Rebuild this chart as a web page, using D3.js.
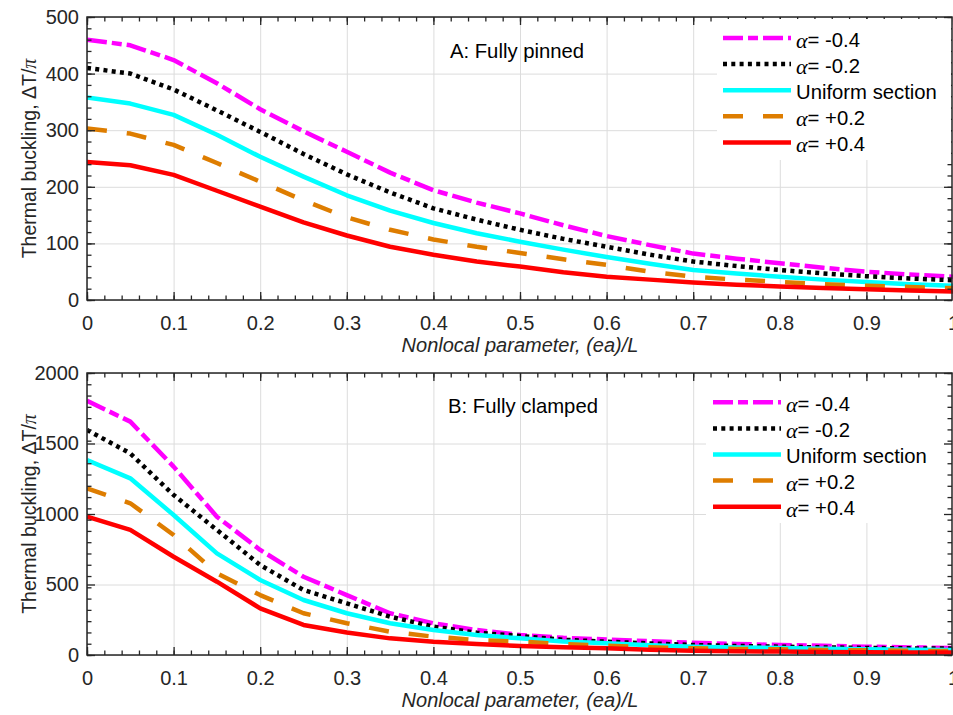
<!DOCTYPE html>
<html>
<head>
<meta charset="utf-8">
<script src="https://cdn.jsdelivr.net/npm/d3@7"></script>
<style>
	body { margin: 0; background: #fff; }
	svg { display: block; font-family: "Liberation Sans", Arial, sans-serif; }
	.tk text { font-size: 20px; fill: #262626; }
	.tk path, .tk line { stroke: #262626; stroke-width: 1.3; }
	.grid line { stroke: #dcdcdc; stroke-width: 1; }
	.grid path { display: none; }
</style>
</head>
<body>
<svg id="fig" width="953" height="715"></svg>
<script>
// nonlocal parameter (ea)/L
let xs = [0, 0.05, 0.1, 0.15, 0.2, 0.25, 0.3, 0.35, 0.4, 0.45, 0.5, 0.55, 0.6, 0.65, 0.7, 0.75, 0.8, 0.85, 0.9, 0.95, 1];

let seriesNames = ["-0.4", "-0.2", "Uniform section", "+0.2", "+0.4"];
let seriesColors = ["#ff00ff", "#000000", "#00ffff", "#de7d00", "#ff0000"];
let seriesDash = ["20,5,10,5", "4,4.3", null, "20,20", null];

// A: fully pinned
let pinnedM04 = [460, 450, 424, 383, 337, 298, 262, 225, 194, 172, 153, 132, 113, 97, 82, 73, 65, 57, 50, 45, 41];
let pinnedM02 = [410, 400, 372, 335, 297, 258, 222, 190, 162, 142, 124, 108, 94, 80, 68, 60, 53, 47, 42, 38, 35];
let pinnedU = [358, 347, 327, 292, 253, 218, 185, 158, 136, 118, 103, 89, 76, 64, 53, 47, 41, 36, 32, 28, 25];
let pinnedP02 = [303, 294, 274, 242, 209, 176, 146, 124, 107, 94, 83, 72, 62, 50, 41, 36, 32, 28, 25, 23, 21];
let pinnedP04 = [244, 238, 221, 193, 165, 137, 114, 94, 80, 68, 59, 49, 41, 36, 31, 27, 24, 21, 19, 17, 15];

// B: fully clamped
let clampedM04 = [1803, 1655, 1336, 981, 745, 555, 425, 296, 225, 177, 142, 122, 110, 98, 87, 78, 71, 65, 59, 54, 50];
let clampedM02 = [1596, 1430, 1135, 887, 638, 461, 366, 272, 201, 158, 135, 108, 94, 82, 71, 64, 59, 54, 50, 47, 45];
let clampedU = [1383, 1253, 993, 721, 532, 390, 296, 225, 177, 142, 118, 95, 83, 70, 59, 54, 50, 45, 40, 37, 35];
let clampedP02 = [1182, 1076, 851, 579, 425, 296, 225, 165, 130, 106, 95, 78, 66, 55, 47, 43, 40, 36, 33, 30, 28];
let clampedP04 = [981, 887, 697, 520, 331, 213, 160, 118, 94, 78, 64, 55, 47, 38, 31, 27, 24, 21, 19, 18, 17];

let xTicks = [0, 0.1, 0.2, 0.3, 0.4, 0.5, 0.6, 0.7, 0.8, 0.9, 1];
let yTicksA = [0, 100, 200, 300, 400, 500];
let yTicksB = [0, 500, 1000, 1500, 2000];

let svg = d3.select("#fig");
let x = d3.scaleLinear().domain([0, 1]).range([87, 953]);

let minorTicks = function(lo, hi, step) {
	let r = [];
	for (let i = 0; lo + i*step <= hi + 1e-9; i++)
		r.push(+(lo + i*step).toFixed(6));
	return r;
};

let drawPanel = function(opt) {
	let y = d3.scaleLinear().domain([0, opt.ymax]).range([opt.bottom, opt.top]);
	let g = svg.append("g");
	let w = x.range()[1] - x.range()[0];
	let h = opt.bottom - opt.top;

	// grid
	g.append("g").attr("class", "grid")
		.attr("transform", "translate(0," + opt.bottom + ")")
		.call(d3.axisBottom(x).tickValues(xTicks).tickSize(-h).tickFormat(""));
	g.append("g").attr("class", "grid")
		.attr("transform", "translate(87,0)")
		.call(d3.axisLeft(y).tickValues(opt.yTicks).tickSize(-w).tickFormat(""));

	let clipId = "clip" + opt.id;
	g.append("clipPath").attr("id", clipId)
		.append("rect").attr("x", 87).attr("y", opt.top).attr("width", w).attr("height", h);

	let line = d3.line().x((d, i) => x(xs[i])).y(d => y(d));
	let curves = g.append("g").attr("clip-path", "url(#" + clipId + ")");
	opt.series.forEach(function(s, i) {
		curves.append("path")
			.attr("d", line(s))
			.attr("fill", "none")
			.attr("stroke", seriesColors[i])
			.attr("stroke-width", 4.5)
			.attr("stroke-dasharray", seriesDash[i])
			.attr("stroke-linejoin", "round");
	});

	// axes with inward ticks, box all round
	let xMinor = minorTicks(0, 1, 0.02);
	let yMinor = minorTicks(0, opt.ymax, opt.ymax / 25);
	let axes = g.append("g").attr("class", "tk");
	axes.append("g").attr("transform", "translate(0," + opt.bottom + ")")
		.call(d3.axisBottom(x).tickValues(xMinor).tickSize(-4.5).tickFormat(""));
	axes.append("g").attr("transform", "translate(0," + opt.bottom + ")")
		.call(d3.axisBottom(x).tickValues(xTicks).tickSizeInner(-8).tickSizeOuter(0).tickPadding(16).tickFormat(d => d))
		.selectAll("text").attr("dy", "0.71em");
	axes.append("g").attr("transform", "translate(0," + opt.top + ")")
		.call(d3.axisTop(x).tickValues(xMinor).tickSize(-4.5).tickFormat(""));
	axes.append("g").attr("transform", "translate(0," + opt.top + ")")
		.call(d3.axisTop(x).tickValues(xTicks).tickSizeInner(-8).tickSizeOuter(0).tickFormat(""));
	axes.append("g").attr("transform", "translate(87,0)")
		.call(d3.axisLeft(y).tickValues(yMinor).tickSize(-4.5).tickFormat(""));
	axes.append("g").attr("transform", "translate(87,0)")
		.call(d3.axisLeft(y).tickValues(opt.yTicks).tickSizeInner(-8).tickSizeOuter(0).tickPadding(8).tickFormat(d => d));
	axes.append("g").attr("transform", "translate(952,0)")
		.call(d3.axisRight(y).tickValues(yMinor).tickSize(-4.5).tickFormat(""));
	axes.append("g").attr("transform", "translate(952,0)")
		.call(d3.axisRight(y).tickValues(opt.yTicks).tickSizeInner(-8).tickSizeOuter(0).tickFormat(""));
	axes.selectAll("path.domain").remove();
	axes.append("rect")
		.attr("x", 87).attr("y", opt.top).attr("width", 952 - 87).attr("height", h)
		.attr("fill", "none").attr("stroke", "#262626").attr("stroke-width", 1.5);

	// title
	g.append("text").attr("x", opt.titleX).attr("y", opt.titleY)
		.attr("text-anchor", "middle").attr("font-size", 20.3).attr("fill", "#000")
		.text(opt.title);

	// legend
	let lg = g.append("g");
	lg.append("rect")
		.attr("x", opt.legX).attr("y", opt.legY).attr("width", opt.legW).attr("height", opt.legH)
		.attr("fill", "#fff");
	seriesNames.forEach(function(name, i) {
		let ly = opt.legRow0 + i*26.1;
		lg.append("line")
			.attr("x1", opt.legLine0).attr("x2", opt.legLine0 + 68)
			.attr("y1", ly).attr("y2", ly)
			.attr("stroke", seriesColors[i]).attr("stroke-width", 4.5)
			.attr("stroke-dasharray", seriesDash[i]);
		let t = lg.append("text")
			.attr("x", opt.legLine0 + 73).attr("y", ly + 8.5)
			.attr("font-size", 20.3).attr("fill", "#000");
		if (name == "Uniform section") {
			t.text(name);
		} else {
			t.append("tspan").attr("font-family", "'Liberation Serif', 'DejaVu Serif', serif")
				.attr("font-style", "italic").attr("font-size", 22).attr("dy", 1.5).text("α");
			t.append("tspan").attr("dy", -1.5).text("= " + name);
		}
	});

	// axis labels
	g.append("text")
		.attr("x", (87 + 953)/2).attr("y", opt.bottom + 52)
		.attr("text-anchor", "middle").attr("font-size", 20).attr("font-style", "italic").attr("fill", "#262626")
		.text("Nonlocal parameter, (ea)/L");
	let yl = g.append("text")
		.attr("transform", "translate(36," + ((opt.top + opt.bottom)/2) + ") rotate(-90)")
		.attr("text-anchor", "middle").attr("font-size", 19.5).attr("fill", "#262626");
	yl.append("tspan").text("Thermal buckling,  ΔT/");
	yl.append("tspan").attr("font-family", "'Liberation Serif', 'DejaVu Serif', serif")
		.attr("font-style", "italic").attr("font-size", 20).text("π");
};

drawPanel({
	id: "A", top: 17, bottom: 300, ymax: 500, yTicks: yTicksA,
	series: [pinnedM04, pinnedM02, pinnedU, pinnedP02, pinnedP04],
	title: "A: Fully pinned", titleX: 517, titleY: 58,
	legX: 717, legY: 19, legW: 234, legH: 141, legRow0: 38, legLine0: 723
});
drawPanel({
	id: "B", top: 373, bottom: 655, ymax: 2000, yTicks: yTicksB,
	series: [clampedM04, clampedM02, clampedU, clampedP02, clampedP04],
	title: "B: Fully clamped", titleX: 523, titleY: 413,
	legX: 706, legY: 382, legW: 238, legH: 141, legRow0: 402.3, legLine0: 713
});
</script>
</body>
</html>
